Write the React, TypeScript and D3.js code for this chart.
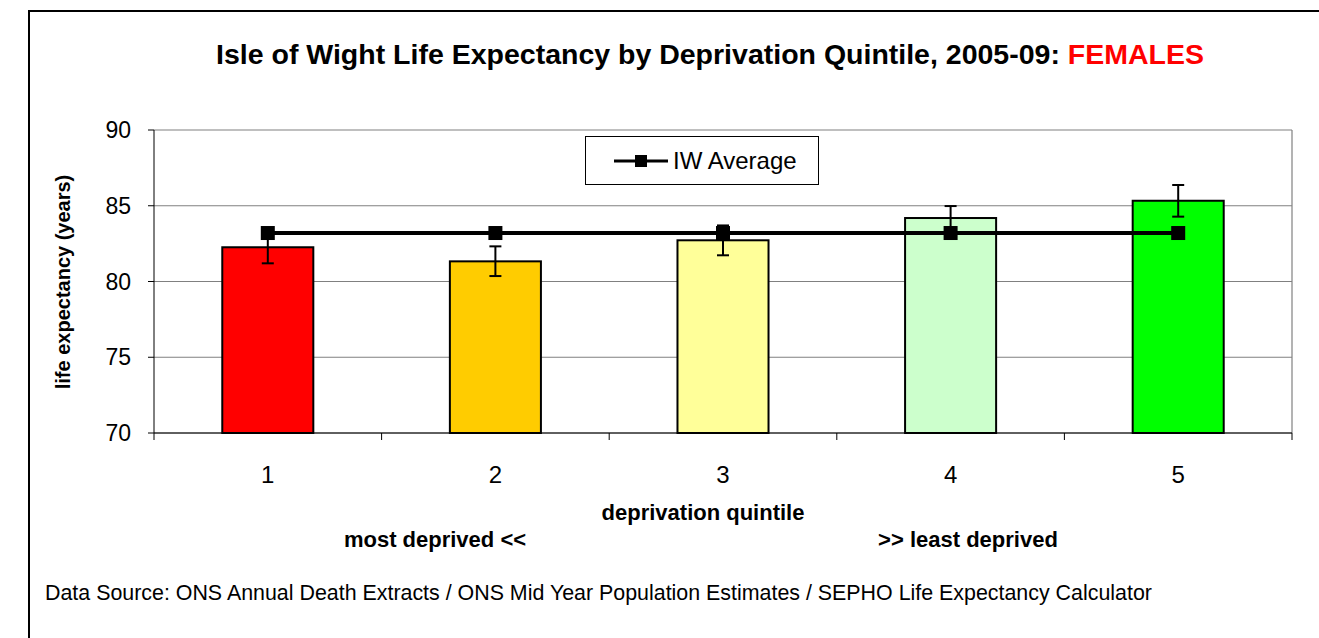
import React, { useEffect } from "react";
import * as d3 from "d3";

const categories = ["1", "2", "3", "4", "5"];
const lifeExpectancy = [82.26, 81.33, 82.72, 84.19, 85.33];
const ciLower = [81.2, 80.36, 81.73, 83.4, 84.28];
const ciUpper = [83.3, 82.32, 83.7, 84.98, 86.37];
const iwAverage = [83.2, 83.2, 83.2, 83.2, 83.2];
const barColors = ["#FF0000", "#FFCC00", "#FFFF99", "#CCFFCC", "#00FF00"];
const yTicks = [70, 75, 80, 85, 90];

const W = 1319;
const H = 638;
const plot = { left: 154, right: 1292, top: 130, bottom: 433 };
const FONT = "'Liberation Sans', Arial, sans-serif";

export default function App() {
  useEffect(() => {
    document.body.style.margin = "0";
    document.body.style.overflow = "hidden";
  }, []);

  const x = d3
    .scaleBand<string>()
    .domain(categories)
    .range([plot.left, plot.right])
    .paddingInner(0.6)
    .paddingOuter(0.3);
  const band = d3.scaleBand<string>().domain(categories).range([plot.left, plot.right]);
  const y = d3.scaleLinear().domain([70, 90]).range([plot.bottom, plot.top]);
  const cx = (c: string) => (x(c) as number) + x.bandwidth() / 2;

  const line = d3
    .line<number>()
    .x((_, i) => cx(categories[i]))
    .y((d) => y(d));

  const catBoundaries = categories.map((c) => band(c) as number).concat([plot.right]);

  return (
    <svg
      width={W}
      height={H}
      style={{ position: "fixed", left: 0, top: 0, background: "#fff", display: "block" }}
      fontFamily={FONT}
    >
      <rect x={0} y={0} width={W} height={H} fill="#fff" />
      <line x1={28} x2={W} y1={11} y2={11} stroke="#000" strokeWidth={2} />
      <line x1={29} x2={29} y1={10} y2={H} stroke="#000" strokeWidth={2} />

      <text x={710} y={64} textAnchor="middle" fontSize={28.5} fontWeight="bold" fill="#000">
        Isle of Wight Life Expectancy by Deprivation Quintile, 2005-09:{" "}
        <tspan fill="#FF0000">FEMALES</tspan>
      </text>

      {/* gridlines */}
      {yTicks.map((t) => (
        <line key={t} x1={plot.left} x2={plot.right} y1={y(t)} y2={y(t)} stroke="#808080" strokeWidth={1.2} />
      ))}
      <line x1={plot.right} x2={plot.right} y1={plot.top} y2={plot.bottom} stroke="#808080" strokeWidth={1.2} />

      {/* bars */}
      {categories.map((c, i) => (
        <rect
          key={c}
          x={x(c)}
          y={y(lifeExpectancy[i])}
          width={x.bandwidth()}
          height={y(70) - y(lifeExpectancy[i])}
          fill={barColors[i]}
          stroke="#000"
          strokeWidth={2}
        />
      ))}

      {/* error bars */}
      {categories.map((c, i) => (
        <g key={"e" + c} stroke="#000" strokeWidth={2}>
          <line x1={cx(c)} x2={cx(c)} y1={y(ciLower[i])} y2={y(ciUpper[i])} />
          <line x1={cx(c) - 6} x2={cx(c) + 6} y1={y(ciLower[i])} y2={y(ciLower[i])} />
          <line x1={cx(c) - 6} x2={cx(c) + 6} y1={y(ciUpper[i])} y2={y(ciUpper[i])} />
        </g>
      ))}

      {/* axes */}
      <line x1={plot.left} x2={plot.left} y1={plot.top} y2={plot.bottom} stroke="#000" strokeWidth={1} />
      <line x1={plot.left} x2={plot.right} y1={plot.bottom} y2={plot.bottom} stroke="#000" strokeWidth={1} />
      {yTicks.map((t) => (
        <g key={"yt" + t}>
          <line x1={plot.left - 6} x2={plot.left} y1={y(t)} y2={y(t)} stroke="#000" />
          <text x={131} y={y(t) + 8} textAnchor="end" fontSize={23} fill="#000">
            {t}
          </text>
        </g>
      ))}
      {catBoundaries.map((b, i) => (
        <line key={"xt" + i} x1={b} x2={b} y1={plot.bottom} y2={plot.bottom + 7} stroke="#000" />
      ))}
      {categories.map((c) => (
        <text key={"xl" + c} x={cx(c)} y={483} textAnchor="middle" fontSize={24} fill="#000">
          {c}
        </text>
      ))}

      {/* average line */}
      <path d={line(iwAverage) as string} fill="none" stroke="#000" strokeWidth={4} />
      {categories.map((c, i) => (
        <rect key={"m" + c} x={cx(c) - 7} y={y(iwAverage[i]) - 7} width={14} height={14} fill="#000" />
      ))}

      {/* legend */}
      <rect x={585.5} y={136.5} width={233} height={48} fill="#fff" stroke="#000" strokeWidth={1} />
      <line x1={614} x2={668} y1={161} y2={161} stroke="#000" strokeWidth={3} />
      <rect x={635} y={155} width={12} height={12} fill="#000" />
      <text x={673} y={169} fontSize={24} fill="#000">
        IW Average
      </text>

      {/* axis titles */}
      <text
        transform={`translate(70, 282) rotate(-90)`}
        textAnchor="middle"
        fontSize={20}
        fontWeight="bold"
        fill="#000"
      >
        life expectancy (years)
      </text>
      <text x={703} y={520} textAnchor="middle" fontSize={22} fontWeight="bold" fill="#000">
        deprivation quintile
      </text>
      <text x={435} y={547} textAnchor="middle" fontSize={22} fontWeight="bold" fill="#000">
        most deprived &lt;&lt;
      </text>
      <text x={968} y={547} textAnchor="middle" fontSize={22} fontWeight="bold" fill="#000">
        &gt;&gt; least deprived
      </text>
      <text x={45} y={600} fontSize={21.4} fill="#000">
        Data Source: ONS Annual Death Extracts / ONS Mid Year Population Estimates / SEPHO Life Expectancy Calculator
      </text>
    </svg>
  );
}
